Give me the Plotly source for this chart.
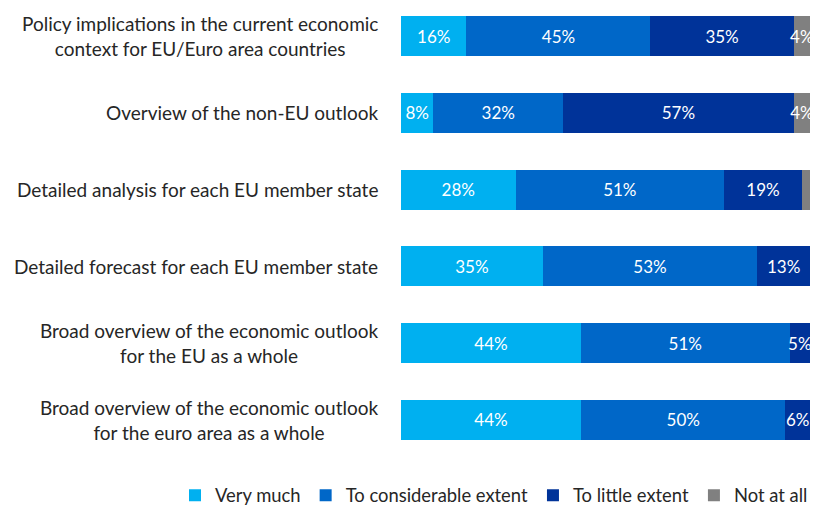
import plotly.graph_objects as go

categories = [
    "Policy implications in the current economic<br>context for EU/Euro area countries",
    "Overview of the non-EU outlook",
    "Detailed analysis for each EU member state",
    "Detailed forecast for each EU member state",
    "Broad overview of the economic outlook<br>for the EU as a whole",
    "Broad overview of the economic outlook<br>for the euro area as a whole",
]
series_names = ["Very much", "To considerable extent", "To little extent", "Not at all"]
very_much = [16, 8, 28, 35, 44, 44]
considerable = [45, 32, 51, 53, 51, 50]
little = [35, 57, 19, 13, 5, 6]
not_at_all = [4, 4, 2, 0, 0, 0]
series_values = [very_much, considerable, little, not_at_all]
colors = ["#00B0F0", "#0067C8", "#003399", "#808080"]

FONT = "Lato"
fig = go.Figure()
ids = list(range(len(categories)))
for name, vals, col in zip(series_names, series_values, colors):
    labels = [f"{v}%" if v >= 3 else "" for v in vals]
    fig.add_trace(go.Bar(
        y=ids, x=vals, name=name, orientation="h",
        marker=dict(color=col, line=dict(width=0)),
        text=labels, textposition="inside", insidetextanchor="middle",
        textangle=0,
        textfont=dict(color="white", size=17, family=FONT),
        constraintext="none", cliponaxis=False,
        hoverinfo="skip",
    ))

for i, c in enumerate(categories):
    fig.add_annotation(
        x=0, y=i, xref="paper", yref="y", text=c, showarrow=False,
        xanchor="right", align="center", xshift=-21,
        font=dict(family=FONT, size=19, color="#262626"),
    )

fig.update_layout(
    width=813, height=530,
    barmode="stack", barnorm="percent", bargap=0.48,
    margin=dict(l=401, r=3, t=0, b=70),
    plot_bgcolor="white", paper_bgcolor="white",
    showlegend=True,
    legend=dict(orientation="h", x=-0.5355, xanchor="left", y=-0.117, yanchor="bottom",
                font=dict(family=FONT, size=18.4, color="#262626"),
                traceorder="normal", itemwidth=30, tracegroupgap=0),
    xaxis=dict(range=[0, 100], visible=False),
    yaxis=dict(range=[5.521, -0.469], visible=False),
)

fig.write_html(
    "out.html",
    config={"displayModeBar": False},
    post_script="document.body.style.margin='0';document.body.style.overflow='hidden';",
)
